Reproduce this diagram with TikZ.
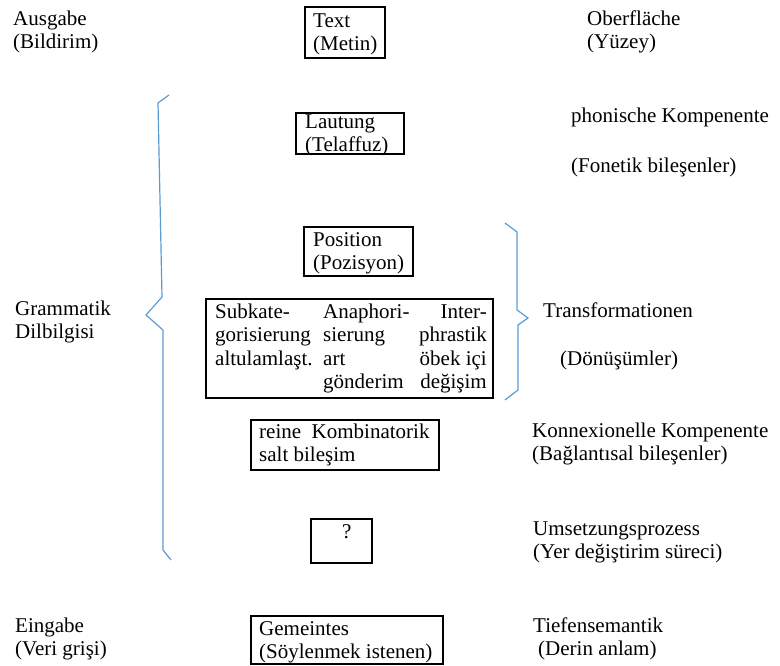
\documentclass[tikz,border=0pt]{standalone}
\usepackage{fontspec}
\setmainfont{Liberation Serif}
\definecolor{bracecol}{RGB}{91,155,213}

\begin{document}
\begin{tikzpicture}[
        x=1pt, y=-1pt,
        txt/.style={
            anchor=north west,
            yshift=16.45pt,
            inner sep=0pt,
            align=left,
            font=\fontsize{21}{23.5}\selectfont
        },
        box/.style={draw, line width=1.3pt},
        bracket/.style={draw=bracecol, line width=1.2pt}
    ]

    % (0,0) at left upper corner, one unit per pixel
    \useasboundingbox (0,0) rectangle (780,666);

    % --- boxes (left, top, right, bottom) ---
    \foreach \l/\t/\r/\b in {305/7/385/58, 296/113/404/154, 304/227/413/276,
        206/299/493/398, 251/420/439/470, 311/519/372/563, 251/616/443/664} {
        \draw[box] (\l,\t) rectangle (\r,\b);
    }

    % --- texts in boxes (x, baseline of first line) ---
    \node[txt] (text)     at (313,27)  {\strut Text\\(Metin)};
    \node[txt] (lautung)  at (305,128) {\strut Lautung\\(Telaffuz)};
    \node[txt] (position) at (313,246) {\strut Position\\(Pozisyon)};
    \node[txt] (subkat)   at (215,318) {\strut Subkate-\\gorisierung\\altulamlaşt.};
    \node[txt] (anaphor)  at (323,318) {\strut Anaphori-\\sierung\\art\\gönderim};
    \node[txt, anchor=north east, align=right] (inter) at (487,318)
        {\strut Inter-\\phrastik\\öbek içi\\değişim};
    \node[txt] (kombi)    at (259,438) {\strut reine\ \ Kombinatorik\\salt bileşim};
    \node[txt] (frage)    at (342,538) {\strut ?};
    \node[txt] (gemeint)  at (259,635) {\strut Gemeintes\\(Söylenmek istenen)};

    % --- side labels (x, baseline of first line) ---
    \node[txt] (ausgabe)   at (13,25)   {\strut Ausgabe\\(Bildirim)};
    \node[txt] (oberfl)    at (587,25)  {\strut Oberfläche\\(Yüzey)};
    \node[txt] (phonisch)  at (571,122) {\strut phonische Kompenente};
    \node[txt] (fonetik)   at (571,172) {\strut (Fonetik bileşenler)};
    \node[txt] (grammatik) at (15,315)  {\strut Grammatik\\Dilbilgisi};
    \node[txt] (transf)    at (543,317) {\strut Transformationen};
    \node[txt] (doenues)   at (560,365) {\strut (Dönüşümler)};
    \node[txt] (konnex)    at (532,437) {\strut Konnexionelle Kompenente\\(Bağlantısal bileşenler)};
    \node[txt] (umsetz)    at (533,535) {\strut Umsetzungsprozess\\(Yer değiştirim süreci)};
    \node[txt] (eingabe)   at (15,632)  {\strut Eingabe\\(Veri grişi)};
    \node[txt] (tiefen)    at (533,632) {\strut Tiefensemantik\\\hspace*{5pt}(Derin anlam)};

    % --- braces ---
    \draw[bracket] (169,95) -- (158,103) -- (162,297) -- (146,315) -- (163,330)
        -- (163,550) -- (171,560);
    \draw[bracket] (505,223) -- (517,232) -- (517,310) -- (528,318) -- (518,325)
        -- (518,390) -- (505,400);

\end{tikzpicture}
\end{document}
